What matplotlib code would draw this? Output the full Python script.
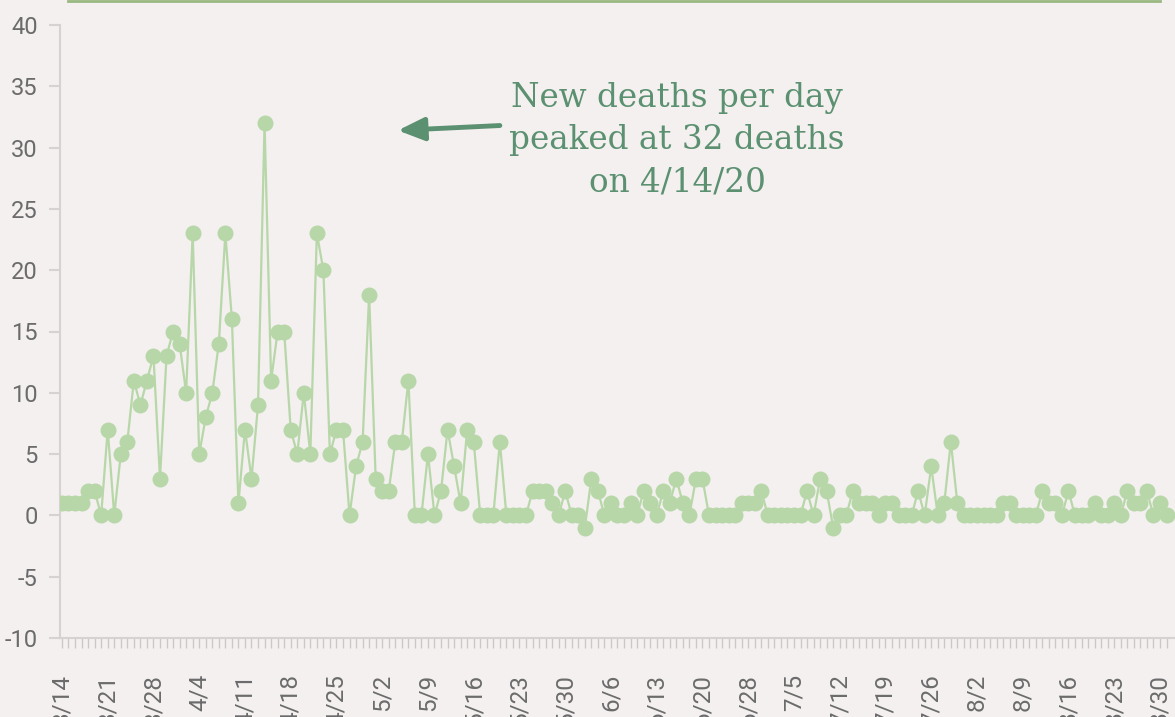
import matplotlib.pyplot as plt
import matplotlib.lines as mlines
import pandas as pd

# daily new deaths, 3/14 .. 8/31 (one day missing in late June)
dates = pd.date_range("2020-03-14", "2020-08-31").drop(pd.Timestamp("2020-06-24"))
new_deaths = [
    1, 1, 1, 1, 2, 2, 0, 7, 0, 5,
    6, 11, 9, 11, 13, 3, 13, 15, 14, 10,
    23, 5, 8, 10, 14, 23, 16, 1, 7, 3,
    9, 32, 11, 15, 15, 7, 5, 10, 5, 23,
    20, 5, 7, 7, 0, 4, 6, 18, 3, 2,
    2, 6, 6, 11, 0, 0, 5, 0, 2, 7,
    4, 1, 7, 6, 0, 0, 0, 6, 0, 0,
    0, 0, 2, 2, 2, 1, 0, 2, 0, 0,
    -1, 3, 2, 0, 1, 0, 0, 1, 0, 2,
    1, 0, 2, 1, 3, 1, 0, 3, 3, 0,
    0, 0, 0, 0, 1, 1, 1, 2, 0, 0,
    0, 0, 0, 0, 2, 0, 3, 2, -1, 0,
    0, 2, 1, 1, 1, 0, 1, 1, 0, 0,
    0, 2, 0, 4, 0, 1, 6, 1, 0, 0,
    0, 0, 0, 0, 1, 1, 0, 0, 0, 0,
    2, 1, 1, 0, 2, 0, 0, 0, 1, 0,
    0, 1, 0, 2, 1, 1, 2, 0, 1, 0,
]
labels = [f"{d.month}/{d.day}" for d in dates]
label_every = 7
annotation = "New deaths per day\npeaked at 32 deaths\non 4/14/20"

bg = "#f3f0ef"
green = "#b7d7a8"
dark_green = "#5b9070"
grey = "#d6d2d1"
text_grey = "#6b6b6b"

plt.rcParams["font.family"] = ["Roboto", "DejaVu Sans"]
plt.rcParams["axes.unicode_minus"] = False

fig = plt.figure(figsize=(11.75, 7.17), dpi=100, facecolor=bg)
ax = fig.add_axes([60 / 1175, 1 - 638 / 717, 1 - 60 / 1175, (638 - 25) / 717])
ax.set_facecolor(bg)

x = list(range(len(new_deaths)))
ax.plot(x, new_deaths, color=green, lw=1.6, marker="o", ms=11.5,
        markeredgewidth=0, zorder=3)

ax.set_xlim(-0.3, 170.3)
ax.set_ylim(-10, 40)
ax.set_yticks(range(-10, 41, 5))

ax.set_xticks(x[::label_every])
ax.set_xticklabels(labels[::label_every], rotation=90)
ax.set_xticks(x, minor=True)

for s in ["top", "right"]:
    ax.spines[s].set_visible(False)
ax.spines["left"].set_color(grey)
ax.spines["left"].set_linewidth(1.5)
ax.spines["bottom"].set_color(grey)
ax.spines["bottom"].set_linewidth(1.5)

ax.tick_params(axis="y", length=8, width=1.5, color=grey, pad=8,
               labelsize=17, labelcolor=text_grey)
ax.tick_params(axis="x", which="both", length=7, width=1, color="#ccc8c7",
               direction="out")
ax.tick_params(axis="x", which="major", pad=19, labelsize=17.5,
               labelcolor=text_grey)

ax.annotate("", xy=(51.4, 31.4), xytext=(67.0, 31.8),
            arrowprops=dict(arrowstyle="-|>,head_length=1.6,head_width=0.7",
                            color=dark_green, lw=3.5, shrinkA=0, shrinkB=0))
ax.text(94.1, 30.6, annotation, ha="center", va="center", color=dark_green,
        fontsize=23.5, family="DejaVu Serif", linespacing=1.42)

# green rule from the title box above the chart
fig.add_artist(mlines.Line2D([68 / 1175, 1160 / 1175], [1 - 1 / 717, 1 - 1 / 717],
                             color="#9ab981", lw=2, transform=fig.transFigure))

fig.savefig("out.png", dpi=100, facecolor=bg)
